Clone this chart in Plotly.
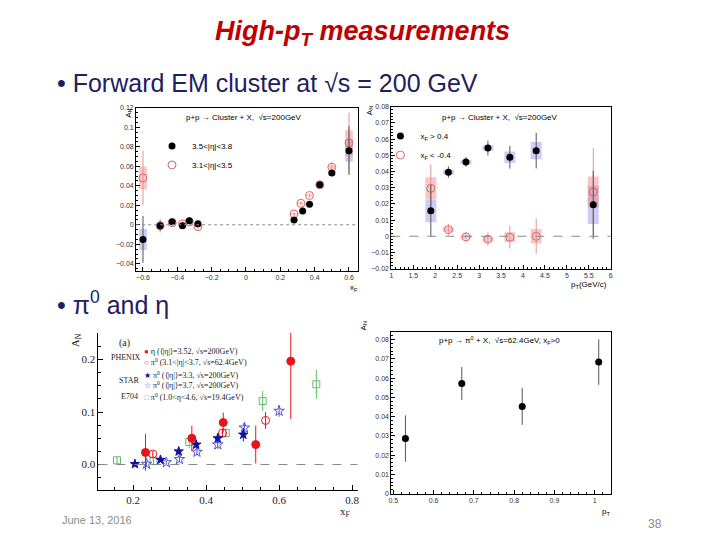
import plotly.graph_objects as go

W, H = 720, 540
OFF = 8  # the page body adds an 8px margin around the figure

# top left: A_N vs x_F, EM cluster, sqrt(s)=200 GeV
c1_xf_a = [-0.6, -0.5, -0.43, -0.37, -0.33, -0.28, 0.28, 0.33, 0.37, 0.43, 0.5, 0.6]
c1_an_a = [-0.015, -0.001, 0.003, -0.001, 0.004, 0.001, 0.005, 0.014, 0.021, 0.041, 0.053, 0.076]
c1_err_a = [0.024, 0.005, 0.003, 0.003, 0.003, 0.003, 0.002, 0.002, 0.002, 0.002, 0.003, 0.025]
c1_sys_a = [0.011, 0.001, 0.001, 0.001, 0.001, 0.001, 0.001, 0.001, 0.001, 0.001, 0.002, 0.0115]
c1_xf_b = [-0.6, -0.5, -0.43, -0.37, -0.33, -0.28, 0.28, 0.32, 0.37, 0.43, 0.5, 0.6]
c1_an_b = [0.048, -0.001, 0.002, 0.001, 0.003, -0.002, 0.011, 0.022, 0.030, 0.041, 0.059, 0.084]
c1_err_b = [0.028, 0.007, 0.003, 0.003, 0.003, 0.003, 0.002, 0.002, 0.002, 0.002, 0.005, 0.031]
c1_sys_b = [0.0115, 0.001, 0.001, 0.001, 0.001, 0.001, 0.001, 0.001, 0.001, 0.001, 0.002, 0.013]

# top right: A_N vs pT
c2_pt = [1.9, 2.3, 2.7, 3.2, 3.7, 4.3, 5.6]
c2_an_fwd = [0.0157, 0.0396, 0.0459, 0.0545, 0.0488, 0.0529, 0.0194]
c2_err_fwd = [0.016, 0.0035, 0.003, 0.0045, 0.007, 0.011, 0.021]
c2_sys_fwd = [0.007, 0.0015, 0.0012, 0.0015, 0.0035, 0.0053, 0.0118]
c2_an_bwd = [0.0296, 0.0041, -0.0004, -0.0018, -0.0006, 0.0, 0.0273]
c2_err_bwd = [0.0147, 0.0035, 0.003, 0.004, 0.007, 0.011, 0.027]
c2_sys_bwd = [0.0068, 0.0015, 0.001, 0.0015, 0.003, 0.0045, 0.0096]

# bottom left: world data pi0 / eta
eta_x = [0.234, 0.361, 0.447, 0.536, 0.632]
eta_y = [0.023, 0.050, 0.080, 0.038, 0.197]
eta_err = [0.035, 0.024, 0.019, 0.036, 0.11]
pi62_x = [0.254, 0.445, 0.563]
pi62_y = [0.020, 0.060, 0.084]
pi62_err = [0.006, 0.008, 0.016]
star33_x = [0.205, 0.275, 0.325, 0.373, 0.432, 0.502]
star33_y = [0.001, 0.009, 0.025, 0.038, 0.050, 0.057]
star33_err = [0.004, 0.004, 0.005, 0.007, 0.009, 0.013]
star37_x = [0.237, 0.291, 0.327, 0.375, 0.432, 0.505, 0.600]
star37_y = [0.001, 0.004, 0.010, 0.024, 0.038, 0.070, 0.102]
star37_err = [0.005, 0.004, 0.006, 0.007, 0.008, 0.010, 0.011]
e704_x = [0.156, 0.256, 0.354, 0.454, 0.555, 0.702]
e704_y = [0.008, 0.007, 0.043, 0.060, 0.121, 0.153]
e704_err = [0.008, 0.009, 0.012, 0.009, 0.019, 0.028]

# bottom right: pi0 62.4 GeV vs pT
c4_pt = [0.53, 0.67, 0.82, 1.01]
c4_an = [0.0286, 0.0572, 0.0453, 0.0683]
c4_err = [0.012, 0.0085, 0.0096, 0.0118]
c4_sys = [0.0015, 0.0012, 0.0012, 0.0012]

RED = "#e06666"
BLUE_BOX = "rgba(120,120,225,0.38)"
RED_BOX = "rgba(240,120,120,0.42)"


def pos(x, y):
    return (x - OFF) / W, 1 - (y - OFF) / H


def dom_x(left, right):
    return [(left - OFF) / W, (right - OFF) / W]


def dom_y(top, bottom):
    return [1 - (bottom - OFF) / H, 1 - (top - OFF) / H]


def sysbox(x, y, s, w, color, xa, ya):
    return go.Bar(x=x, y=[2 * v for v in s], base=[a - b for a, b in zip(y, s)],
                  width=w, marker=dict(color=color, line=dict(width=0)),
                  showlegend=False, hoverinfo="skip", xaxis=xa, yaxis=ya)


fig = go.Figure()

# panel 1
fig.add_trace(sysbox(c1_xf_a, c1_an_a, c1_sys_a, 0.045, BLUE_BOX, "x", "y"))
fig.add_trace(sysbox(c1_xf_b, c1_an_b, c1_sys_b, 0.045, RED_BOX, "x", "y"))
fig.add_trace(go.Scatter(x=c1_xf_b, y=c1_an_b, mode="markers", name="3.1&lt;|η|&lt;3.5",
                         marker=dict(symbol="circle-open", size=8, color=RED, line=dict(width=1)),
                         error_y=dict(array=c1_err_b, color="#e89090", thickness=1, width=0),
                         xaxis="x", yaxis="y", legend="legend"))
fig.add_trace(go.Scatter(x=c1_xf_a, y=c1_an_a, mode="markers", name="3.5&lt;|η|&lt;3.8",
                         marker=dict(symbol="circle", size=7, color="black"),
                         error_y=dict(array=c1_err_a, color="#555", thickness=1, width=0),
                         xaxis="x", yaxis="y", legend="legend"))

# panel 2
fig.add_trace(sysbox(c2_pt, c2_an_fwd, c2_sys_fwd, 0.25, BLUE_BOX, "x2", "y2"))
fig.add_trace(sysbox(c2_pt, c2_an_bwd, c2_sys_bwd, 0.25, RED_BOX, "x2", "y2"))
fig.add_trace(go.Scatter(x=c2_pt, y=c2_an_bwd, mode="markers", name="x<sub>F</sub> &lt; -0.4",
                         marker=dict(symbol="circle-open", size=8, color=RED, line=dict(width=1)),
                         error_y=dict(array=c2_err_bwd, color="#e89090", thickness=1, width=0),
                         xaxis="x2", yaxis="y2", legend="legend2"))
fig.add_trace(go.Scatter(x=c2_pt, y=c2_an_fwd, mode="markers", name="x<sub>F</sub> &gt; 0.4",
                         marker=dict(symbol="circle", size=7, color="black"),
                         error_y=dict(array=c2_err_fwd, color="#555", thickness=1, width=0),
                         xaxis="x2", yaxis="y2", legend="legend2"))

# panel 3
p3 = [
    (e704_x, e704_y, e704_err, "square-open", 7, "#66bb66"),
    (pi62_x, pi62_y, pi62_err, "circle-open", 8, "#e8141c"),
    (star37_x, star37_y, star37_err, "star-open", 8, "#5555cc"),
    (star33_x, star33_y, star33_err, "star", 7, "#10109a"),
    (eta_x, eta_y, eta_err, "circle", 8, "#e8141c"),
]
for xs, ys, es, sym, sz, col in p3:
    fig.add_trace(go.Scatter(x=xs, y=ys, mode="markers", showlegend=False,
                             marker=dict(symbol=sym, size=sz, color=col, line=dict(width=1, color=col)),
                             error_y=dict(array=es, color=col, thickness=1, width=0),
                             xaxis="x3", yaxis="y3"))

# panel 4
fig.add_trace(sysbox(c4_pt, c4_an, c4_sys, 0.016, BLUE_BOX, "x4", "y4"))
fig.add_trace(go.Scatter(x=c4_pt, y=c4_an, mode="markers", showlegend=False,
                         marker=dict(symbol="circle", size=7, color="black"),
                         error_y=dict(array=c4_err, color="#555", thickness=1, width=0),
                         xaxis="x4", yaxis="y4"))

sans_tick = dict(family="Liberation Sans", size=7, color="#333")
serif_tick = dict(family="Liberation Serif", size=11, color="#222")
box_axis = dict(showline=True, linecolor="black", linewidth=1, mirror=True, ticks="inside",
                ticklen=4, tickcolor="black", showgrid=False, zeroline=False, tickfont=sans_tick,
                minor=dict(ticks="inside", ticklen=2, nticks=5, tickcolor="black"))
open_axis = dict(showline=True, linecolor="black", linewidth=1, mirror=False, ticks="inside",
                 ticklen=5, tickcolor="black", showgrid=False, zeroline=False, tickfont=serif_tick,
                 tickformat=".1f")
leg_font = dict(family="Liberation Sans", size=8, color="black")

fig.update_layout(
    width=W, height=H, margin=dict(l=0, r=0, t=0, b=0),
    paper_bgcolor="white", plot_bgcolor="white", barmode="overlay",
    xaxis=dict(box_axis, domain=dom_x(134, 357), range=[-0.64, 0.65], dtick=0.2, anchor="y"),
    yaxis=dict(box_axis, domain=dom_y(105, 270), range=[-0.047, 0.12], dtick=0.02, anchor="x"),
    xaxis2=dict(box_axis, domain=dom_x(391, 612), range=[1, 6], dtick=0.5, anchor="y2"),
    yaxis2=dict(box_axis, domain=dom_y(104, 268), range=[-0.02, 0.08], dtick=0.01, anchor="x2"),
    xaxis3=dict(open_axis, domain=dom_x(96, 357), range=[0.105, 0.815], tickvals=[0.2, 0.4, 0.6, 0.8],
                minor=dict(ticks="inside", ticklen=3, dtick=0.05, tickcolor="black"), anchor="y3"),
    yaxis3=dict(open_axis, domain=dom_y(333, 492), range=[-0.048, 0.251], dtick=0.1,
                minor=dict(ticks="inside", ticklen=3, dtick=0.025, tickcolor="black"), anchor="x3"),
    xaxis4=dict(box_axis, domain=dom_x(391, 612), range=[0.495, 1.04], dtick=0.1, anchor="y4"),
    yaxis4=dict(box_axis, domain=dom_y(332, 496), range=[0, 0.084], dtick=0.01, anchor="x4"),
    legend=dict(x=pos(150, 0)[0], y=pos(0, 129)[1], xanchor="left", yanchor="top",
                font=leg_font, bgcolor="rgba(0,0,0,0)", itemwidth=30, traceorder="reversed"),
    legend2=dict(x=pos(380, 0)[0], y=pos(0, 119)[1], xanchor="left", yanchor="top",
                 font=leg_font, bgcolor="rgba(0,0,0,0)", itemwidth=30, traceorder="reversed"),
)

# zero reference lines
for xr, yr, dash in [("x domain", "y", "dot"), ("x2 domain", "y2", "dash"), ("x3 domain", "y3", "dash")]:
    fig.add_shape(type="line", xref=xr, yref=yr, x0=0, x1=1, y0=0, y1=0,
                  line=dict(color="#888", width=1, dash=dash))

notes = [
    # text, px, py, size, family, color, anchor, angle
    ("<b><i>High-p<sub>T</sub> measurements</i></b>", 362, 29, 27, "Liberation Sans", "#c00000", "center", 0),
    ("• Forward EM cluster at √s = 200 GeV", 52, 80, 25, "Liberation Sans", "#1f2060", "left", 0),
    ("• π<sup>0</sup> and η", 52, 303, 25, "Liberation Sans", "#1f2060", "left", 0),
    ("June 13, 2016", 57, 523, 11, "Liberation Sans", "#8c8c8c", "left", 0),
    ("38", 656, 527, 12, "Liberation Sans", "#8c8c8c", "center", 0),
    ("p+p → Cluster + X,  √s=200GeV", 243, 115, 8, "Liberation Sans", "black", "center", 0),
    ("p+p → Cluster + X,  √s=200GeV", 500, 115, 8, "Liberation Sans", "black", "center", 0),
    ("p+p → π<sup>0</sup> + X,  √s=62.4GeV, x<sub>F</sub>&gt;0", 500, 341, 8, "Liberation Sans", "black", "center", 0),
    ("A<sub>N</sub>", 126, 111, 8, "Liberation Sans", "black", "center", -90),
    ("A<sub>N</sub>", 369, 108, 8, "Liberation Sans", "black", "center", -90),
    ("A<sub>N</sub>", 363, 326, 8, "Liberation Sans", "black", "center", -90),
    ("A<sub>N</sub>", 73, 341, 11, "Liberation Serif", "#222", "center", -90),
    ("x<sub>F</sub>", 353, 288, 8, "Liberation Sans", "black", "center", 0),
    ("p<sub>T</sub>(GeV/c)", 590, 285, 8, "Liberation Sans", "black", "center", 0),
    ("p<sub>T</sub>", 607, 515, 8, "Liberation Sans", "black", "center", 0),
    ("x<sub>F</sub>", 344, 515, 11, "Liberation Serif", "#222", "center", 0),
    ("(a)", 122, 343, 10, "Liberation Serif", "#222", "center", 0),
    ("PHENIX", 141, 358, 8, "Liberation Serif", "#222", "right", 0),
    ("STAR", 139, 381, 8, "Liberation Serif", "#222", "right", 0),
    ("E704", 138, 398, 8, "Liberation Serif", "#222", "right", 0),
    ("<span style='color:#e8141c'>●</span> η (⟨|η|⟩=3.52, √s=200GeV)", 140, 352, 8, "Liberation Serif", "#222", "left", 0),
    ("<span style='color:#e8141c'>○</span> π<sup>0</sup> (3.1&lt;|η|&lt;3.7, √s=62.4GeV)", 140, 363, 8, "Liberation Serif", "#222", "left", 0),
    ("<span style='color:#10109a'>★</span> π<sup>0</sup> (⟨|η|⟩=3.3, √s=200GeV)", 140, 376, 8, "Liberation Serif", "#222", "left", 0),
    ("<span style='color:#5555cc'>☆</span> π<sup>0</sup> (⟨|η|⟩=3.7, √s=200GeV)", 140, 386, 8, "Liberation Serif", "#222", "left", 0),
    ("<span style='color:#66bb66'>□</span> π<sup>0</sup> (1.0&lt;η&lt;4.6, √s=19.4GeV)", 140, 398, 8, "Liberation Serif", "#222", "left", 0),
]
for text, x, y, size, fam, col, anchor, angle in notes:
    ax, ay = pos(x, y)
    fig.add_annotation(text=text, x=ax, y=ay, xref="paper", yref="paper", showarrow=False,
                       xanchor=anchor, yanchor="middle", textangle=angle,
                       font=dict(family=fam, size=size, color=col))

fig.write_html("out.html")
